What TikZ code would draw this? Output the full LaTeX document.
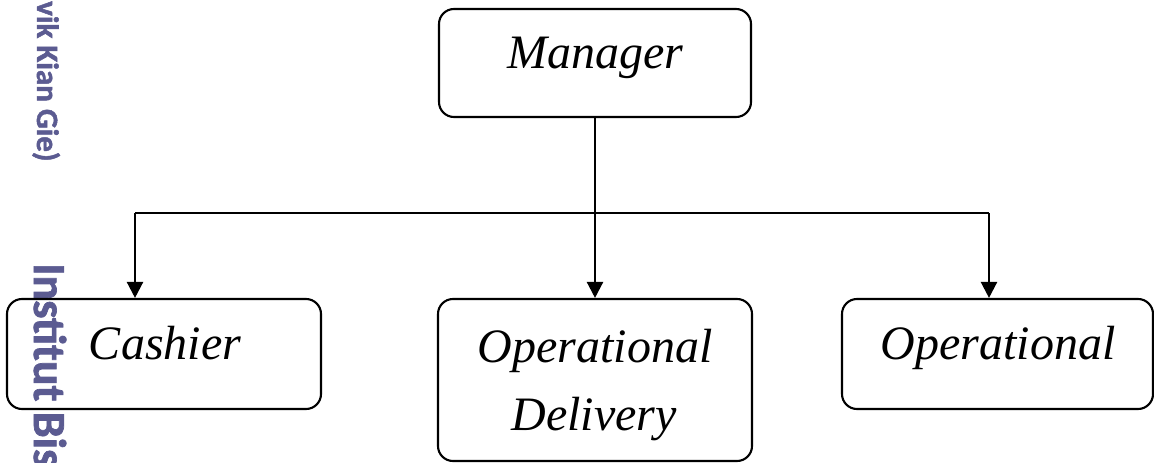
\documentclass[tikz,border=0pt]{standalone}
\usepackage{fontspec}
\setmainfont{Liberation Serif}
\newfontfamily\wmfont{Carlito}[BoldFeatures={FakeBold=1.5}]
\usetikzlibrary{arrows.meta,calc}
\definecolor{wmcol}{RGB}{91,91,145}
\tikzset{
  box/.style={draw=black, line width=2.1pt, rounded corners=15pt, inner sep=0pt},
  lbl/.style={anchor=base, inner sep=0pt, font=\fontsize{48}{48}\selectfont\itshape},
  conn/.style={line width=2.3pt, -{Triangle[width=16pt,length=16pt]}},
  wm/.style={anchor=base west, rotate=-90, inner sep=0pt, text=wmcol}
}
\begin{document}
\begin{tikzpicture}[x=1pt,y=1pt]
\fill[white] (0,0) rectangle (1154,-463);
\useasboundingbox (0,0) rectangle (1154,-463);
% watermark
\node[wm, font=\wmfont\bfseries\fontsize{31}{31}\selectfont] (wma) at (37,-1) {vik Kian Gie)};
\node[wm, font=\wmfont\bfseries\fontsize{46}{46}\selectfont] (wmb) at (34,-263) {Institut Bis};
% boxes
\node[box, minimum width=312pt, minimum height=108pt] (mgr) at (595,-63) {};
\node[box, minimum width=314pt, minimum height=110pt] (cash) at (164,-354) {};
\node[box, minimum width=314pt, minimum height=162pt] (del) at (595,-380) {};
\node[box, minimum width=311pt, minimum height=110pt] (oper) at (997.5,-354) {};
% labels
\node[lbl] (tmgr) at (595,-68) {Manager};
\node[lbl] (tcash) at (165,-359) {Cashier};
\node[lbl] (tdel1) at (595,-362) {Operational};
\node[lbl] (tdel2) at (594,-430) {Delivery};
\node[lbl] (toper) at (998,-359) {Operational};
% connectors
\coordinate (jl) at (135,-213);
\coordinate (jr) at (989,-213);
\draw[line width=2.3pt] (jl) -- (jr);
\draw[conn] (mgr.south) -- (del.north);
\draw[conn] (jl) -- (jl |- cash.north);
\draw[conn] (jr) -- (jr |- oper.north);
\end{tikzpicture}
\end{document}
